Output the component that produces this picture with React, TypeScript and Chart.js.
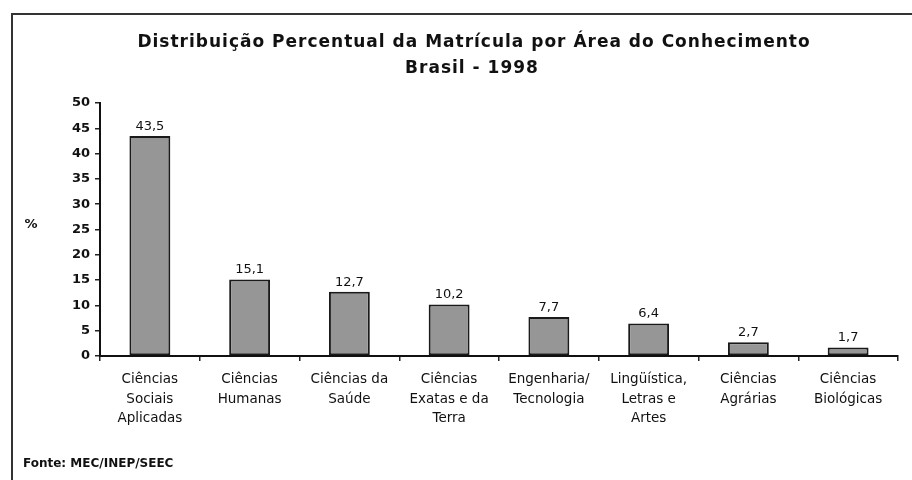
import React, { useEffect, useRef } from "react";
import { Chart, registerables } from "chart.js";

Chart.register(...registerables);

const categories: string[][] = [
  ["Ciências", "Sociais", "Aplicadas"],
  ["Ciências", "Humanas"],
  ["Ciências da", "Saúde"],
  ["Ciências", "Exatas e da", "Terra"],
  ["Engenharia/", "Tecnologia"],
  ["Lingüística,", "Letras e", "Artes"],
  ["Ciências", "Agrárias"],
  ["Ciências", "Biológicas"],
];
const values: number[] = [43.5, 15.1, 12.7, 10.2, 7.7, 6.4, 2.7, 1.7];
const yMin = 0;
const yMax = 50;
const yStep = 5;
const titleLines: string[] = [
  "Distribuição Percentual da Matrícula por Área do Conhecimento",
  "Brasil - 1998",
];
const yAxisLabel = "%";
const sourceNote = "Fonte: MEC/INEP/SEEC";

const FONT = "'DejaVu Sans', 'Liberation Sans', Arial, sans-serif";
const TEXT = "#111111";

const decorPlugin = {
  id: "decor",
  beforeDraw(chart: any) {
    const ctx = chart.ctx as CanvasRenderingContext2D;
    ctx.save();
    ctx.fillStyle = "#ffffff";
    ctx.fillRect(0, 0, chart.width, chart.height);
    // frame
    ctx.strokeStyle = "#333333";
    ctx.lineWidth = 2;
    ctx.beginPath();
    ctx.moveTo(12, chart.height + 5);
    ctx.lineTo(12, 14);
    ctx.lineTo(chart.width + 5, 14);
    ctx.stroke();
    ctx.restore();
  },
  afterDraw(chart: any) {
    const ctx = chart.ctx as CanvasRenderingContext2D;
    ctx.save();
    ctx.fillStyle = TEXT;
    // titles
    ctx.textAlign = "center";
    ctx.textBaseline = "alphabetic";
    ctx.font = `bold 17px ${FONT}`;
    (ctx as any).letterSpacing = "1px";
    ctx.fillText(titleLines[0], 474, 47);
    ctx.fillText(titleLines[1], 472, 73);
    (ctx as any).letterSpacing = "0px";
    // y label
    ctx.font = `bold 13px ${FONT}`;
    ctx.textBaseline = "middle";
    ctx.fillText(yAxisLabel, 31, 225);
    // source
    ctx.textAlign = "left";
    ctx.font = `bold 12px ${FONT}`;
    ctx.fillText(sourceNote, 23, 464);
    // value labels
    const meta = chart.getDatasetMeta(0);
    ctx.textAlign = "center";
    ctx.textBaseline = "bottom";
    ctx.font = `13px ${FONT}`;
    meta.data.forEach((bar: any, i: number) => {
      ctx.fillText(values[i].toFixed(1).replace(".", ","), bar.x, bar.y - 3);
    });
    ctx.restore();
  },
};

export default function App() {
  const ref = useRef<HTMLCanvasElement>(null);
  useEffect(() => {
    if (!ref.current) return;
    const chart = new Chart(ref.current, {
      type: "bar",
      data: {
        labels: categories,
        datasets: [
          {
            data: values,
            backgroundColor: "#969696",
            borderColor: "#1a1a1a",
            borderWidth: 2,
            borderSkipped: false,
            barPercentage: 0.41,
            categoryPercentage: 1,
          },
        ],
      },
      options: {
        animation: false,
        responsive: false,
        devicePixelRatio: 1,
        layout: { padding: { left: 0, top: 103, right: 14, bottom: 0 } },
        plugins: {
          legend: { display: false },
          title: { display: false },
          tooltip: { enabled: false },
        },
        scales: {
          x: {
            offset: true,
            grid: {
              offset: true,
              drawOnChartArea: false,
              drawTicks: true,
              tickLength: 5,
              color: "#222222",
              lineWidth: 1.5,
            },
            border: { display: true, color: "#111111", width: 2 },
            ticks: {
              color: TEXT,
              font: { family: FONT, size: 13.5, lineHeight: 1.45 },
              maxRotation: 0,
              minRotation: 0,
              autoSkip: false,
              padding: 9,
            },
            afterFit(scale: any) {
              scale.height = 124;
            },
          },
          y: {
            min: yMin,
            max: yMax,
            ticks: {
              stepSize: yStep,
              color: TEXT,
              font: { family: FONT, size: 13, weight: "bold" },
              padding: 5,
            },
            grid: {
              drawOnChartArea: false,
              drawTicks: true,
              tickLength: 5,
              color: "#222222",
              lineWidth: 1.5,
            },
            border: { display: true, color: "#111111", width: 2 },
            afterFit(scale: any) {
              scale.width = 100;
            },
          },
        },
      },
      plugins: [decorPlugin],
    });
    return () => chart.destroy();
  }, []);
  return (
    <div style={{ position: "fixed", left: 0, top: 0, width: 912, height: 480, background: "#fff" }}>
      <canvas ref={ref} width={912} height={480} style={{ display: "block" }} />
    </div>
  );
}
